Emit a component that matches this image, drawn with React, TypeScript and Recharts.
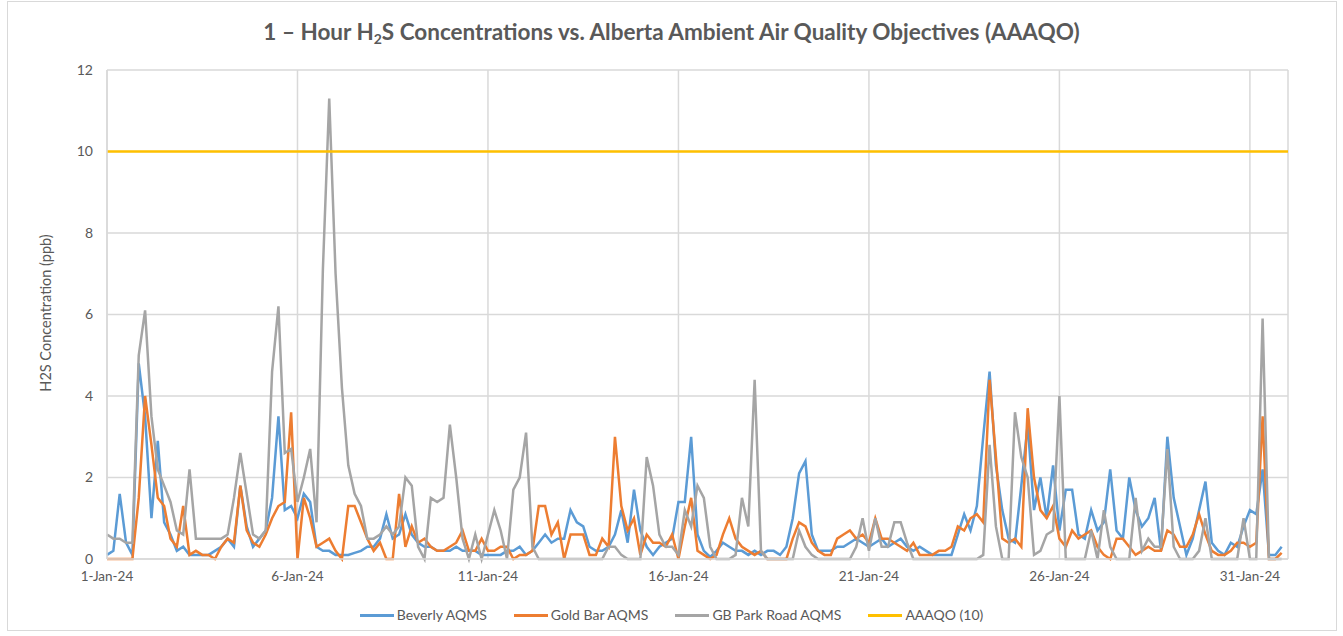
import { LineChart, Line, XAxis, YAxis, CartesianGrid } from 'recharts';

// 4-hour readings, 6 per day, 1-Jan-24 00:00 to 31-Jan-24 20:00
const beverly = [
  0.1, 0.2, 1.6, 0.4, 0.1, 4.8,
  3.5, 1.0, 2.9, 0.9, 0.6, 0.2,
  0.3, 0.1, 0.1, 0.1, 0.1, 0.2,
  0.3, 0.5, 0.3, 1.8, 0.8, 0.3,
  0.5, 0.7, 1.5, 3.5, 1.2, 1.3,
  1.0, 1.6, 1.4, 0.3, 0.2, 0.2,
  0.1, 0.1, 0.1, 0.15, 0.2, 0.3,
  0.3, 0.5, 1.1, 0.5, 0.6, 1.1,
  0.6, 0.4, 0.3, 0.3, 0.2, 0.2,
  0.2, 0.3, 0.2, 0.2, 0.2, 0.1,
  0.1, 0.1, 0.1, 0.2, 0.2, 0.3,
  0.1, 0.2, 0.4, 0.6, 0.4, 0.5,
  0.5, 1.2, 0.9, 0.8, 0.3, 0.2,
  0.2, 0.3, 0.6, 1.2, 0.4, 1.7,
  0.7, 0.3, 0.1, 0.3, 0.4, 0.5,
  1.4, 1.4, 3.0, 0.6, 0.2, 0.05,
  0.2, 0.4, 0.3, 0.2, 0.2, 0.1,
  0.2, 0.1, 0.2, 0.2, 0.1, 0.3,
  1.0, 2.1, 2.4, 0.6, 0.2, 0.2,
  0.2, 0.3, 0.3, 0.4, 0.5, 0.4,
  0.3, 0.4, 0.5, 0.3, 0.4, 0.5,
  0.3, 0.2, 0.3, 0.2, 0.1, 0.1,
  0.1, 0.1, 0.6, 1.1, 0.7, 1.3,
  3.0, 4.6, 2.3, 1.2, 0.5, 0.4,
  1.8, 3.3, 1.2, 2.0, 1.0, 2.3,
  0.7, 1.7, 1.7, 0.6, 0.5, 1.2,
  0.7, 0.9, 2.2, 0.7, 0.5, 2.0,
  1.2, 0.8, 1.0, 1.5, 0.2, 3.0,
  1.5, 0.8, 0.1, 0.5, 1.2, 1.9,
  0.4, 0.2, 0.1, 0.4, 0.3, 0.8,
  1.2, 1.1, 2.2, 0.1, 0.1, 0.3,
];

const goldBar = [
  0, 0, 0, 0, 0, 1.5,
  4.0, 2.8, 1.5, 1.3, 0.5, 0.3,
  1.3, 0.1, 0.2, 0.1, 0.1, 0,
  0.3, 0.5, 0.4, 1.8, 0.7, 0.4,
  0.3, 0.6, 1.0, 1.3, 1.4, 3.6,
  0, 1.5, 1.0, 0.3, 0.4, 0.5,
  0.2, 0, 1.3, 1.3, 0.9, 0.5,
  0.2, 0.4, 0, 0, 1.6, 0.3,
  0.8, 0.4, 0.5, 0.3, 0.2, 0.2,
  0.3, 0.4, 0.7, 0.2, 0.2, 0.5,
  0.2, 0.2, 0.3, 0.3, 0, 0.1,
  0.1, 0.2, 1.3, 1.3, 0.6, 0.9,
  0, 0.6, 0.6, 0.6, 0.1, 0.1,
  0.5, 0.3, 3.0, 1.3, 0.7, 1.0,
  0.1, 0.6, 0.4, 0.4, 0.3, 0.6,
  0, 0.8, 1.5, 0.2, 0.1, 0,
  0.1, 0.6, 1.0, 0.5, 0.3, 0.2,
  0.1, 0.2, 0, 0, 0, 0,
  0.5, 0.9, 0.8, 0.4, 0.2, 0.1,
  0.1, 0.5, 0.6, 0.7, 0.5, 0.6,
  0.4, 1.0, 0.5, 0.5, 0.4, 0.3,
  0.2, 0.4, 0.1, 0.1, 0.1, 0.2,
  0.2, 0.3, 0.8, 0.7, 1.0, 1.1,
  0.9, 4.4, 2.5, 0.5, 0.4, 0.5,
  0.3, 3.7, 2.0, 1.2, 1.0, 1.3,
  0.5, 0.3, 0.7, 0.5, 0.6, 0.7,
  0.3, 0.1, 0, 0.5, 0.5, 0.3,
  0.1, 0.2, 0.3, 0.2, 0.2, 0.7,
  0.6, 0.3, 0.3, 0.6, 1.1, 0.6,
  0.2, 0.1, 0.1, 0.2, 0.4, 0.4,
  0.3, 0.4, 3.5, 0, 0, 0.15,
];

const gbParkRoad = [
  0.6, 0.5, 0.5, 0.4, 0.4, 5.0,
  6.1, 3.5, 2.2, 1.8, 1.4, 0.7,
  0.6, 2.2, 0.5, 0.5, 0.5, 0.5,
  0.5, 0.6, 1.5, 2.6, 1.6, 0.6,
  0.5, 0.7, 4.6, 6.2, 2.6, 2.7,
  1.4, 2.0, 2.7, 0.9, 7.1, 11.3,
  7.0, 4.2, 2.3, 1.6, 1.3, 0.5,
  0.5, 0.6, 0.8, 0.6, 0.8, 2.0,
  1.8, 0.3, 0, 1.5, 1.4, 1.5,
  3.3, 2.0, 0.5, 0, 0.6, 0,
  0.6, 1.2, 0.7, 0, 1.7, 2.0,
  3.1, 0.3, 0, 0, 0, 0,
  0, 0, 0, 0, 0, 0,
  0, 0.3, 0.3, 0.1, 0, 0,
  0, 2.5, 1.8, 0.6, 0.3, 0.3,
  0.1, 1.2, 0.8, 1.8, 1.5, 0.3,
  0, 0, 0, 0.1, 1.5, 0.8,
  4.4, 0.2, 0, 0, 0, 0,
  0, 0.7, 0.3, 0.1, 0, 0,
  0, 0, 0, 0, 0.3, 1.0,
  0.2, 1.0, 0.3, 0.3, 0.9, 0.9,
  0.4, 0, 0, 0, 0, 0,
  0, 0, 0, 0, 0, 0,
  0.1, 2.8, 0.8, 0, 0, 3.6,
  2.5, 2.0, 0.1, 0.2, 0.6, 0.7,
  4.0, 0, 0, 0, 0, 0.7,
  0, 1.2, 0.3, 0, 0, 0,
  1.5, 0.2, 0.5, 0.3, 0.3, 2.7,
  0.3, 0, 0, 0, 0.2, 1.0,
  0, 0, 0, 0, 0, 1.0,
  0, 0, 5.9, 0, 0, 0,
];

const AAAQO_LIMIT = 10;
const READINGS_PER_DAY = 6;

const xTicks = [0, 5, 10, 15, 20, 25, 30];
const xTickLabels = ['1-Jan-24', '6-Jan-24', '11-Jan-24', '16-Jan-24', '21-Jan-24', '26-Jan-24', '31-Jan-24'];
const yTicks = [0, 2, 4, 6, 8, 10, 12];

const seriesInfo = [
  { key: 'beverly', name: 'Beverly AQMS', color: '#5B9BD5' },
  { key: 'goldBar', name: 'Gold Bar AQMS', color: '#ED7D31' },
  { key: 'gbPark', name: 'GB Park Road AQMS', color: '#A5A5A5' },
  { key: 'aaaqo', name: 'AAAQO (10)', color: '#FFC000' },
];

const chartData: Record<string, number>[] = beverly.map((v, i) => ({
  day: i / READINGS_PER_DAY,
  beverly: v,
  goldBar: goldBar[i],
  gbPark: gbParkRoad[i],
  aaaqo: AAAQO_LIMIT,
}));
// let the objective line run to the end of the axis
chartData.push({ day: 31, aaaqo: AAAQO_LIMIT });

const textColor = '#595959';
const gridColor = '#d9d9d9';
const font = 'Lato, "Open Sans", sans-serif';

export default function App() {
  return (
    <div style={{ position: 'absolute', left: 0, top: 0, width: 1343, height: 636, background: '#fff', fontFamily: font }}>
      {/* chart border */}
      <div style={{ position: 'absolute', left: 7, top: 1, width: 1328, height: 628, border: `1px solid ${gridColor}` }} />

      {/* Title */}
      <div style={{ position: 'absolute', left: 0, top: 18, width: 1343, textAlign: 'center', fontSize: 22.5, lineHeight: '28px', fontWeight: 700, color: textColor }}>
        1 – Hour H<sub style={{ fontSize: 14, verticalAlign: -4, lineHeight: 0 }}>2</sub>S Concentrations vs. Alberta Ambient Air Quality Objectives (AAAQO)
      </div>

      {/* Y axis title */}
      <div style={{ position: 'absolute', left: 45, top: 313, transform: 'translate(-50%, -50%) rotate(-90deg)', whiteSpace: 'nowrap', fontSize: 14.5, color: textColor }}>
        H2S Concentration (ppb)
      </div>

      <div style={{ position: 'absolute', left: 0, top: 0 }}>
        <LineChart width={1343} height={636} data={chartData} margin={{ top: 70, right: 55, bottom: 47, left: 47 }}>
          <CartesianGrid stroke={gridColor} strokeWidth={1.5} vertical={true} horizontal={true} />
          <XAxis
            dataKey="day"
            type="number"
            domain={[0, 31]}
            ticks={xTicks}
            tickFormatter={(v: number) => xTickLabels[xTicks.indexOf(v)] ?? ''}
            tickLine={false}
            tickMargin={6}
            axisLine={{ stroke: gridColor, strokeWidth: 1.5 }}
            tick={{ fill: textColor, fontSize: 13.5, fontFamily: font }}
            height={30}
            interval={0}
          />
          <YAxis
            type="number"
            domain={[0, 12]}
            ticks={yTicks}
            tickLine={false}
            tickMargin={8}
            axisLine={{ stroke: gridColor, strokeWidth: 1.5 }}
            tick={{ fill: textColor, fontSize: 14, fontFamily: font }}
            width={60}
            interval={0}
          />
          {seriesInfo.map((s) => (
            <Line
              key={s.key}
              type="linear"
              dataKey={s.key}
              name={s.name}
              stroke={s.color}
              strokeWidth={2.5}
              dot={false}
              isAnimationActive={false}
            />
          ))}
        </LineChart>
      </div>

      {/* Legend */}
      <div style={{ position: 'absolute', left: 0, top: 606, width: 1343, display: 'flex', justifyContent: 'center', gap: 27, fontSize: 14, lineHeight: '18px', color: textColor }}>
        {seriesInfo.map((s) => (
          <div key={s.key} style={{ display: 'flex', alignItems: 'center' }}>
            <span style={{ display: 'inline-block', width: 34, height: 3, background: s.color, marginRight: 3 }} />
            <span>{s.name}</span>
          </div>
        ))}
      </div>
    </div>
  );
}
